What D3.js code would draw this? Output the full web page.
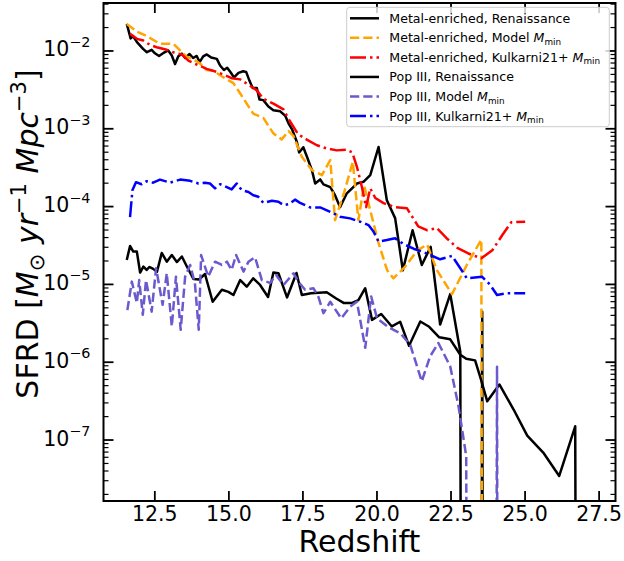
<!DOCTYPE html>
<html><head><meta charset="utf-8">
<script src="https://cdn.jsdelivr.net/npm/d3@7"></script>
<style>body{margin:0;background:#fff} svg text{font-family:"DejaVu Sans",sans-serif}</style>
</head><body><svg id="c" width="624" height="561"></svg>
<script>
// ---------- data ----------
const meRenZ = [11.57,11.70,11.78,11.92,12.12,12.25,12.41,12.52,12.66,12.83,12.97,13.09,13.20,13.31,13.43,13.54,13.69,13.81,13.93,14.03,14.15,14.27,14.42,14.61,14.72,14.85,14.96,15.08,15.19,15.34,15.50,15.60,15.71,15.82,15.96,16.05,16.18,16.35,16.52,16.75,16.92,17.03,17.15,17.31,17.39,17.53,17.66,17.82,17.93,18.10,18.21,18.44,18.60,18.77,19.00,19.34,19.56,19.79,20.07,20.35,20.63,20.89,21.22,21.53,21.83,22.15,22.49,22.83,23.20,23.57,23.90];
const meRenV = [2.20e-2,1.43e-2,1.53e-2,1.27e-2,1.05e-2,9.5e-3,1.02e-2,9.2e-3,8.5e-3,9.4e-3,1.0e-2,8.6e-3,6.7e-3,8.4e-3,9.1e-3,8.0e-3,9.0e-3,8.0e-3,8.5e-3,7.1e-3,8.4e-3,8.9e-3,8.1e-3,7.8e-3,6.4e-3,5.6e-3,6.0e-3,5.2e-3,4.5e-3,5.15e-3,5.4e-3,5.3e-3,4.1e-3,3.3e-3,3.3e-3,2.35e-3,2.3e-3,1.9e-3,1.7e-3,1.65e-3,1.45e-3,1.16e-3,9.7e-4,6.7e-4,4.9e-4,5.7e-4,4.25e-4,2.9e-4,1.95e-4,2.2e-4,1.9e-4,1.75e-4,1.38e-4,9.7e-5,1.46e-4,1.95e-4,2.05e-4,2.5e-4,5.75e-4,1.19e-4,7.0e-5,1.5e-5,4.9e-5,1.75e-5,3.0e-5,3.0e-6,7.4e-6,1.34e-6,0,4.4e-6,0];

const meModZ = [11.57,11.91,12.24,12.69,13.14,13.37,13.59,13.82,14.04,14.27,14.49,14.72,14.95,15.17,15.40,15.62,15.84,16.18,16.52,16.80,17.03,17.20,17.48,17.82,18.16,18.44,18.60,18.91,19.20,19.39,19.58,19.73,20.06,20.36,20.57,20.97,21.38,21.71,22.04,22.55,23.05,23.54,23.90];
const meModV = [2.19e-2,1.75e-2,1.53e-2,1.22e-2,1.22e-2,1.0e-2,8.3e-3,7.7e-3,6.8e-3,5.6e-3,5.5e-3,4.8e-3,4.25e-3,3.8e-3,2.8e-3,2.07e-3,1.54e-3,1.36e-3,8.6e-4,7.2e-4,9.2e-4,7.9e-4,4.3e-4,2.9e-4,2.5e-4,3.9e-4,6.6e-5,1.5e-4,3.7e-4,6.6e-5,1.86e-4,1.09e-4,3.45e-5,1.5e-5,1.18e-5,1.67e-5,2.7e-5,3.2e-5,1.5e-5,7.4e-6,1.75e-5,3.7e-5,0];

const meKulZ = [11.68,11.91,12.13,12.35,12.58,12.92,13.20,13.43,13.65,13.93,14.27,14.61,14.89,15.11,15.40,15.62,15.96,16.18,16.52,16.86,17.08,17.35,17.66,17.99,18.32,18.66,19.00,19.18,19.34,19.51,19.65,19.79,19.96,20.24,20.63,21.03,21.41,21.70,22.04,22.39,22.73,23.10,23.54,23.91,24.25,24.55,25.02];
const meKulV = [1.64e-2,1.41e-2,1.34e-2,1.18e-2,1.10e-2,1.02e-2,9.3e-3,8.9e-3,7.4e-3,6.6e-3,5.8e-3,5.3e-3,4.8e-3,4.4e-3,4.25e-3,3.75e-3,3.07e-3,2.4e-3,2.07e-3,1.75e-3,1.23e-3,8.4e-4,7.1e-4,6.05e-4,5.5e-4,5.2e-4,5.3e-4,4.9e-4,3.2e-4,1.75e-4,9.7e-5,1.69e-4,1.27e-4,1.09e-4,9.7e-5,9.35e-5,5.5e-5,4.9e-5,5.2e-5,3.8e-5,2.9e-5,2.46e-5,2.13e-5,2.7e-5,4.25e-5,6.2e-5,6.3e-5];

const p3RenZ = [11.57,11.68,11.79,11.91,12.02,12.13,12.24,12.34,12.46,12.59,12.75,12.92,13.09,13.26,13.43,13.59,13.82,14.01,14.21,14.47,14.78,15.00,15.17,15.40,15.62,15.84,16.07,16.34,16.52,16.69,16.98,17.30,17.48,17.79,18.32,18.64,18.89,19.18,19.39,19.62,19.85,20.16,20.52,20.80,21.10,21.48,21.78,22.12,22.49,22.83,23.03,23.33,23.54,23.74,24.15,24.63,25.09,25.63,26.17,26.71,27.30];
const p3RenV = [2.03e-5,3.07e-5,2.6e-5,2.6e-5,1.40e-5,1.67e-5,1.51e-5,1.65e-5,1.56e-5,1.43e-5,2.5e-5,1.93e-5,2.35e-5,1.91e-5,2.25e-5,1.70e-5,1.16e-5,1.14e-5,1.34e-5,5.9e-6,8.4e-6,7.9e-6,7.2e-6,1.12e-5,9.2e-6,1.18e-5,9.7e-6,6.8e-6,1.40e-5,1.37e-5,6.7e-6,1.38e-5,7.2e-6,7.6e-6,7.8e-6,6.5e-6,5.7e-6,5.7e-6,6.2e-6,8.8e-6,3.45e-6,4.1e-6,2.84e-6,3.26e-6,1.60e-6,3.29e-6,2.81e-6,2.06e-6,1.94e-6,1.23e-6,1.09e-6,1.04e-6,5.7e-7,3.1e-7,5.1e-7,2.43e-7,1.12e-7,6.8e-8,3.4e-8,1.48e-7,0];

const p3ModZ = [11.59,11.74,11.91,11.99,12.11,12.22,12.41,12.56,12.78,12.92,13.09,13.23,13.39,13.54,13.71,13.87,14.00,14.08,14.32,14.55,14.78,14.95,15.11,15.26,15.51,15.68,15.90,16.13,16.41,16.61,16.86,17.20,17.36,17.59,17.87,18.04,18.21,18.44,18.81,19.11,19.34,19.62,19.82,20.02,20.41,20.80,21.14,21.53,21.81,22.09,22.49,22.77,23.03,23.56,24.07,24.40];
const p3ModV = [4.6e-6,1.07e-5,5.7e-6,1.12e-5,4.0e-6,1.12e-5,4.4e-6,1.59e-5,5.4e-6,1.37e-5,2.84e-6,1.24e-5,2.57e-6,1.24e-5,1.75e-5,1.02e-5,2.57e-6,2.35e-5,1.24e-5,1.93e-5,1.75e-5,1.93e-5,1.51e-5,2.35e-5,1.44e-5,1.93e-5,2.2e-5,1.12e-5,1.03e-5,1.30e-5,9.7e-6,1.37e-5,1.07e-5,8.4e-6,8.8e-6,6.8e-6,4.2e-6,5.9e-6,3.6e-6,5.1e-6,5.9e-6,1.51e-6,6.9e-6,3.6e-6,2.77e-6,2.33e-6,1.65e-6,5.6e-7,1.17e-6,1.74e-6,8.7e-7,2.67e-7,6.1e-8,0,8.6e-7,0];

const p3KulZ = [11.68,11.76,11.88,12.07,12.24,12.46,12.69,13.03,13.37,13.71,13.99,14.21,14.38,14.55,14.72,14.89,15.11,15.28,15.45,15.68,15.84,16.01,16.18,16.47,16.69,16.86,17.05,17.25,17.42,17.76,18.10,18.44,18.77,19.11,19.45,19.73,19.90,20.07,20.35,20.63,20.91,21.27,21.59,21.81,22.15,22.55,22.83,23.05,23.56,23.84,24.07,24.41,25.02];
const p3KulV = [7.2e-5,1.60e-4,2.03e-4,1.91e-4,2.09e-4,2.0e-4,2.19e-4,2.0e-4,2.19e-4,2.11e-4,1.95e-4,2.0e-4,1.95e-4,1.69e-4,1.91e-4,1.80e-4,1.64e-4,1.95e-4,1.60e-4,1.52e-4,1.38e-4,1.32e-4,1.10e-4,1.17e-4,1.14e-4,1.03e-4,1.06e-4,1.21e-4,1.10e-4,9.6e-5,9.6e-5,8.45e-5,7.3e-5,6.95e-5,6.3e-5,5.7e-5,4.7e-5,3.5e-5,3.66e-5,3.85e-5,3.26e-5,2.81e-5,2.57e-5,2.35e-5,2.07e-5,2.29e-5,1.59e-5,1.18e-5,1.24e-5,9.7e-6,7.2e-6,7.6e-6,7.6e-6];

const xTicks = [12.5,15,17.5,20,22.5,25,27.5];
const xTickLabels = ["12.5","15.0","17.5","20.0","22.5","25.0","27.5"];
const yTickExps = [-7,-6,-5,-4,-3,-2];
const yTickLabels = ["\u22127","\u22126","\u22125","\u22124","\u22123","\u22122"];
const legendLabels = ["Metal-enriched, Renaissance","Metal-enriched, Model M_min","Metal-enriched, Kulkarni21+ M_min","Pop III, Renaissance","Pop III, Model M_min","Pop III, Kulkarni21+ M_min"];

// ---------- layout / styles ----------
const L = 103.5, R = 615.5, T = 3, B = 501;
const LW = 2.5;
const DASHED = "9.25,4", DASHDOT = "16,4,2.5,4";
const styles = [
  {color:"#000000", dash:null},
  {color:"#FFA500", dash:DASHED},
  {color:"#FF0000", dash:DASHDOT},
  {color:"#000000", dash:null},
  {color:"#6A5ACD", dash:DASHED},
  {color:"#0000FF", dash:DASHDOT}
];
const seriesData = [[meRenZ,meRenV],[meModZ,meModV],[meKulZ,meKulV],[p3RenZ,p3RenV],[p3ModZ,p3ModV],[p3KulZ,p3KulV]];

const svg = d3.select("#c");
svg.append("rect").attr("width",624).attr("height",561).attr("fill","#fff");

const x = d3.scaleLinear().domain([10.784, 28.07]).range([L, R]);
const y = d3.scaleLog().domain([Math.pow(10,-7.79), Math.pow(10,-1.39)]).range([B, T]);

svg.append("clipPath").attr("id","clip").append("rect")
  .attr("x",L).attr("y",T).attr("width",R-L).attr("height",B-T);

const line = d3.line()
  .x(d => x(d[0]))
  .y(d => d[1] > 0 ? y(d[1]) : y(1e-80));

const gLines = svg.append("g").attr("clip-path","url(#clip)");
seriesData.forEach((s, i) => {
  const pts = s[0].map((z, k) => [z, s[1][k]]);
  gLines.append("path").datum(pts)
    .attr("d", line)
    .attr("fill","none")
    .attr("stroke", styles[i].color)
    .attr("stroke-width", LW)
    .attr("stroke-linejoin","round")
    .attr("stroke-dasharray", styles[i].dash);
});

// ---------- axes ----------
const yMajor = yTickExps.map(e => Math.pow(10, e));
const yMinor = [];
for (let e = -8; e <= -2; e++) for (let k = 2; k <= 9; k++) {
  const v = k * Math.pow(10, e);
  if (v > y.domain()[0] && v < y.domain()[1]) yMinor.push(v);
}
function styleAxis(g, w) {
  g.select(".domain").remove();
  g.selectAll(".tick line").attr("stroke","#000").attr("stroke-width", w);
}
const fsTick = 20.5;
const gxB = svg.append("g").attr("transform",`translate(0,${B})`)
  .call(d3.axisBottom(x).tickValues(xTicks).tickFormat((d,i)=>xTickLabels[i]).tickSize(-10).tickPadding(5));
styleAxis(gxB, 1.8);
gxB.selectAll("text").attr("font-size", fsTick).attr("font-family","DejaVu Sans").attr("fill","#000");
const gxT = svg.append("g").attr("transform",`translate(0,${T})`)
  .call(d3.axisTop(x).tickValues(xTicks).tickFormat("").tickSize(-10));
styleAxis(gxT, 1.8);

[["L", d3.axisLeft, L], ["R", d3.axisRight, R]].forEach(([nm, ax, pos]) => {
  const gM = svg.append("g").attr("transform",`translate(${pos},0)`)
    .call(ax(y).tickValues(yMajor).tickFormat("").tickSize(-10));
  styleAxis(gM, 1.8);
  const gm = svg.append("g").attr("transform",`translate(${pos},0)`)
    .call(ax(y).tickValues(yMinor).tickFormat("").tickSize(-5));
  styleAxis(gm, 1.2);
});

// y tick labels 10^k
const gyl = svg.append("g");
yMajor.forEach((v, i) => {
  const t = gyl.append("text").attr("x", L - 13).attr("y", y(v) + 6)
    .attr("text-anchor","end").attr("font-size", fsTick).attr("fill","#000");
  t.append("tspan").text("10");
  t.append("tspan").attr("font-size", fsTick*0.7).attr("dy", -9.5).text(yTickLabels[i]);
});

// frame
svg.append("rect").attr("x",L).attr("y",T).attr("width",R-L).attr("height",B-T)
  .attr("fill","none").attr("stroke","#000").attr("stroke-width",2);

// axis labels
svg.append("text").attr("x",(L+R)/2).attr("y",551.5).attr("text-anchor","middle")
  .attr("font-size",30).attr("fill","#000").text("Redshift");
const yl = svg.append("text").attr("transform","translate(37.5,234) rotate(-90)")
  .attr("text-anchor","middle").attr("font-size",30).attr("fill","#000");
yl.append("tspan").text("SFRD [");
yl.append("tspan").attr("font-style","italic").text("M");
yl.append("tspan").attr("font-size",21).attr("dy",6).text("\u2299");
yl.append("tspan").attr("dy",-6).text(" ");
yl.append("tspan").attr("font-style","italic").text("yr");
yl.append("tspan").attr("font-size",21).attr("dy",-12).text("\u22121");
yl.append("tspan").attr("dy",12).text(" ");
yl.append("tspan").attr("font-style","italic").text("Mpc");
yl.append("tspan").attr("font-size",21).attr("dy",-12).text("\u22123");
yl.append("tspan").attr("dy",12).text("]");

// ---------- legend ----------
const lg = svg.append("g");
lg.append("rect").attr("x",346.7).attr("y",7.3).attr("width",262.6).attr("height",119.4)
  .attr("rx",3).attr("fill","#fff").attr("fill-opacity",0.8).attr("stroke","#cccccc").attr("stroke-width",1);
const fsLeg = 12.6;
legendLabels.forEach((lab, i) => {
  const cy = 18.3 + i * 19.55;
  lg.append("line").attr("x1",350).attr("x2",379).attr("y1",cy).attr("y2",cy)
    .attr("stroke", styles[i].color).attr("stroke-width", LW)
    .attr("stroke-dasharray", styles[i].dash);
  const t = lg.append("text").attr("x",389.3).attr("y",cy + 4.5).attr("font-size",fsLeg).attr("fill","#000");
  if (lab.endsWith("M_min")) {
    t.append("tspan").text(lab.slice(0, -5));
    t.append("tspan").attr("font-style","italic").text("M");
    t.append("tspan").attr("font-size", fsLeg*0.7).attr("dy", 2.5).text("min");
  } else {
    t.text(lab);
  }
});
</script>
</body></html>
